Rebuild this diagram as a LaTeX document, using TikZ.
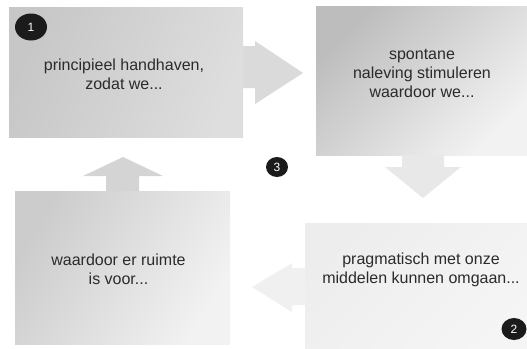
\documentclass[tikz,border=0pt]{standalone}
\usepackage{fontspec}
\setmainfont{Liberation Sans}
\usepackage{tikz}
\usetikzlibrary{calc, positioning, shapes.geometric}

\definecolor{badgeblack}{HTML}{1B1B1B}
\definecolor{txtgray}{HTML}{2B2B2B}
\definecolor{arrowgray}{HTML}{DADADA}

\begin{document}
\begin{tikzpicture}[x=1pt, y=-1pt,
    box/.style={inner sep=0pt, outer sep=0pt, shade},
    txt/.style={font=\fontsize{16}{19}\selectfont, text=txtgray, align=center},
    num/.style={ellipse, fill=badgeblack, text=white, inner sep=0pt, font=\fontsize{12}{12}\selectfont},
    blockarrow/.style={fill=#1, draw=none}]
    \useasboundingbox (0,0) rectangle (527,348);
    % the four boxes
    \node[box, minimum width=234pt, minimum height=130pt, top color=black!22, bottom color=black!13, shading angle=70] (b1) at (126,72) {};
    \node[box, minimum width=211pt, minimum height=149pt, top color=black!26, bottom color=black!5, shading angle=45] (b2) at (421.5,80.5) {};
    \node[box, minimum width=215pt, minimum height=153pt, top color=black!20, bottom color=black!5, shading angle=60] (b3) at (122.5,267.5) {};
    \node[box, minimum width=222pt, minimum height=125pt, top color=black!7, bottom color=black!4, shading angle=45] (b4) at (416,285.5) {};
    % texts
    \node[txt] (t1) at ($(b1.center)+(-2,2)$) {principieel handhaven,\\zodat we...};
    \node[txt] (t2) at ($(b2.center)+(0.5,-7.5)$) {spontane\\naleving stimuleren\\waardoor we...};
    \node[txt] (t3) at ($(b3.center)+(-4,1.5)$) {waardoor er ruimte\\is voor...};
    \node[txt] (t4) at ($(b4.center)+(5,-15.5)$) {pragmatisch met onze\\middelen kunnen omgaan...};
    % block arrows between the boxes
    \fill[blockarrow=arrowgray] ($(b1.east)+(0,-26)$) -- ++(12,0) -- ++(0,-5) -- ++(48,32) -- ++(-48,31) -- ++(0,-16) -- ++(-12,0) -- cycle;
    \fill[blockarrow=black!9] ($(b2.south)+(-19.5,0)$) -- ++(0,12) -- ++(-17,0) -- ++(38,31) -- ++(38,-31) -- ++(-17,0) -- ++(0,-12) -- cycle;
    \fill[blockarrow=black!6] ($(b4.west)+(0,-17.5)$) -- ++(-13,0) -- ++(0,-5) -- ++(-40,24) -- ++(40,25) -- ++(0,-7) -- ++(13,0) -- cycle;
    \fill[blockarrow=black!17] ($(b3.north)+(-16.5,0)$) -- ++(0,-15) -- ++(-23,0) -- ++(40,-19) -- ++(40,19) -- ++(-24,0) -- ++(0,15) -- cycle;
    % numbers
    \node[num, minimum width=32pt, minimum height=27pt] (n1) at ($(b1.north west)+(22,20)$) {1};
    \node[num, minimum width=25pt, minimum height=22pt] (n2) at ($(b4.south east)+(-13,-19)$) {2};
    \node[num, minimum width=22pt, minimum height=20pt] (n3) at (277,167) {3};
\end{tikzpicture}
\end{document}
